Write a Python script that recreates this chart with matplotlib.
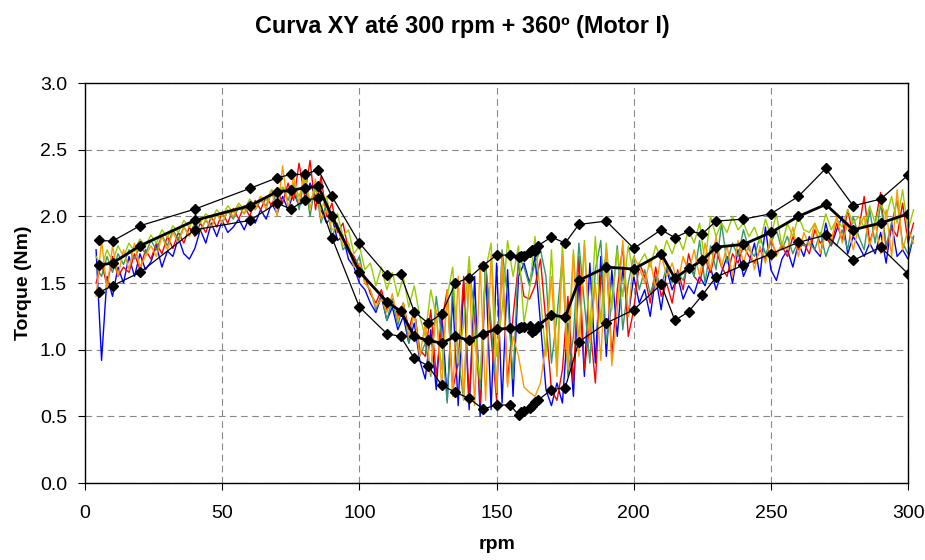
import matplotlib
matplotlib.use('Agg')
import matplotlib.pyplot as plt

plt.rcParams['font.family'] = ['Liberation Sans', 'DejaVu Sans']

# rpm sampling of the measured traces (same grid for every run)
RPM = [4, 6, 8, 10, 12, 14, 16, 18, 20, 22,
       24, 26, 28, 30, 32, 34, 36, 38, 40, 42,
       44, 46, 48, 50, 52, 54, 56, 58, 60, 62,
       64, 66, 68, 70, 72, 74, 76, 78, 80, 82,
       84, 86, 88, 90, 92, 94, 96, 98, 100, 102,
       104, 106, 108, 110, 112, 114, 116, 118, 120, 122,
       124, 126, 128, 130, 132, 134, 136, 138, 140, 142,
       144, 146, 148, 150, 152, 154, 156, 158, 160, 162,
       164, 166, 168, 170, 172, 174, 176, 178, 180, 182,
       184, 186, 188, 190, 192, 194, 196, 198, 200, 202,
       204, 206, 208, 210, 212, 214, 216, 218, 220, 222,
       224, 226, 228, 230, 232, 234, 236, 238, 240, 242,
       244, 246, 248, 250, 252, 254, 256, 258, 260, 262,
       264, 266, 268, 270, 272, 274, 276, 278, 280, 282,
       284, 286, 288, 290, 292, 294, 296, 298, 300, 302]

# torque traces (Nm), one per run
BLUE = [1.75, 0.92, 1.55, 1.40, 1.62, 1.50, 1.70, 1.55, 1.72, 1.60,
        1.66, 1.78, 1.62, 1.74, 1.70, 1.84, 1.72, 1.68, 1.76, 1.90,
        1.80, 1.95, 1.85, 1.97, 1.88, 1.92, 1.98, 1.90, 2.00, 1.95,
        2.05, 1.98, 2.10, 2.02, 2.15, 2.05, 2.18, 2.08, 2.12, 2.25,
        2.15, 2.05, 1.95, 2.00, 1.82, 1.85, 1.68, 1.62, 1.50, 1.45,
        1.35, 1.28, 1.40, 1.22, 1.32, 1.15, 1.25, 1.05, 1.20, 0.92,
        0.78, 1.15, 0.70, 1.30, 0.62, 1.40, 0.58, 1.50, 0.55, 1.55,
        0.50, 1.62, 0.55, 1.65, 0.60, 1.60, 0.65, 1.55, 1.65, 1.50,
        1.70, 1.20, 0.70, 0.58, 0.75, 0.60, 1.20, 0.65, 1.55, 0.80,
        1.65, 0.90, 1.70, 0.95, 1.60, 1.10, 1.62, 1.25, 1.55, 1.35,
        1.45, 1.25, 1.55, 1.30, 1.60, 1.45, 1.55, 1.38, 1.48, 1.42,
        1.55, 1.48, 1.62, 1.45, 1.58, 1.70, 1.50, 1.75, 1.55, 1.65,
        1.80, 1.55, 1.92, 1.60, 1.52, 1.68, 1.75, 1.62, 1.80, 1.70,
        1.85, 1.75, 1.70, 1.95, 1.78, 1.90, 2.00, 1.72, 1.85, 1.78,
        1.70, 1.80, 1.72, 1.88, 1.65, 1.95, 1.70, 1.75, 1.68, 1.85]

RED = [1.50, 1.65, 1.48, 1.70, 1.55, 1.62, 1.58, 1.72, 1.60, 1.75,
       1.68, 1.80, 1.72, 1.85, 1.76, 1.88, 1.80, 1.92, 1.85, 1.95,
       1.88, 2.00, 1.92, 2.03, 1.95, 2.06, 1.98, 2.08, 2.00, 2.12,
       2.05, 2.15, 2.08, 2.20, 2.10, 2.25, 2.12, 2.40, 2.15, 2.42,
       2.05, 2.30, 2.00, 2.10, 1.88, 1.95, 1.75, 1.70, 1.62, 1.55,
       1.42, 1.35, 1.45, 1.30, 1.38, 1.25, 1.35, 1.15, 1.30, 1.00,
       0.95, 1.30, 0.80, 1.20, 1.45, 0.70, 0.90, 1.55, 0.62, 1.30,
       0.60, 1.65, 1.10, 0.62, 1.70, 0.75, 1.25, 1.65, 1.40, 1.38,
       1.48, 1.68, 1.20, 0.70, 0.62, 0.85, 1.40, 0.75, 1.70, 0.85,
       1.20, 0.75, 1.55, 1.70, 0.95, 1.45, 1.78, 1.10, 1.30, 1.65,
       1.55, 1.35, 1.62, 1.40, 1.50, 1.35, 1.60, 1.45, 1.72, 1.55,
       1.50, 1.68, 1.58, 1.75, 1.62, 1.55, 1.72, 1.65, 1.78, 1.70,
       1.65, 1.75, 1.68, 1.82, 1.72, 1.78, 1.70, 1.85, 1.75, 1.80,
       1.72, 1.90, 1.80, 1.85, 1.78, 1.95, 1.82, 2.05, 1.85, 1.90,
       2.15, 1.80, 1.95, 2.18, 1.75, 1.92, 1.85, 2.10, 1.80, 1.95]

GREEN = [1.62, 1.55, 1.70, 1.58, 1.72, 1.64, 1.75, 1.68, 1.78, 1.72,
         1.82, 1.75, 1.86, 1.78, 1.90, 1.83, 1.92, 1.86, 1.95, 1.90,
         1.97, 1.92, 2.02, 1.95, 2.04, 1.98, 2.07, 2.02, 2.10, 2.05,
         2.12, 2.08, 2.18, 2.10, 2.22, 2.12, 2.25, 2.05, 2.30, 2.00,
         2.25, 1.95, 2.10, 1.85, 1.95, 1.75, 1.80, 1.62, 1.70, 1.50,
         1.45, 1.30, 1.42, 1.22, 1.38, 1.18, 1.35, 1.05, 1.30, 0.95,
         1.05, 0.80, 1.40, 1.10, 0.60, 1.50, 0.95, 0.62, 1.60, 1.30,
         0.70, 1.65, 1.20, 0.68, 1.75, 1.40, 0.78, 1.70, 1.62, 1.48,
         1.65, 1.75, 1.55, 0.90, 1.25, 1.70, 0.80, 1.10, 1.80, 1.35,
         0.90, 1.60, 1.82, 1.05, 1.35, 1.78, 1.15, 1.50, 1.70, 1.45,
         1.60, 1.42, 1.55, 1.48, 1.62, 1.50, 1.58, 1.52, 1.65, 1.55,
         1.82, 1.50, 1.78, 1.60, 1.95, 1.65, 1.80, 1.70, 1.90, 1.75,
         1.70, 1.85, 1.72, 1.80, 1.90, 1.75, 1.85, 1.72, 1.82, 1.78,
         1.80, 1.75, 1.88, 1.70, 1.82, 1.78, 1.90, 1.75, 2.00, 1.85,
         1.75, 2.05, 1.80, 2.10, 1.78, 1.95, 2.12, 1.80, 1.72, 1.85]

YELLOWGREEN = [1.70, 1.62, 1.75, 1.66, 1.78, 1.70, 1.80, 1.74, 1.83, 1.78,
               1.86, 1.80, 1.90, 1.84, 1.93, 1.88, 1.97, 1.92, 2.00, 1.95,
               2.02, 1.98, 2.05, 2.00, 2.08, 2.03, 2.10, 2.05, 2.13, 2.08,
               2.15, 2.12, 2.20, 2.15, 2.22, 2.18, 2.25, 2.15, 2.28, 2.12,
               2.20, 2.05, 2.15, 1.95, 2.02, 1.85, 1.90, 1.72, 1.78, 1.60,
               1.65, 1.48, 1.62, 1.45, 1.58, 1.40, 1.55, 1.32, 1.48, 1.25,
               1.10, 1.45, 1.25, 0.85, 1.40, 1.62, 0.90, 1.20, 1.70, 1.05,
               0.78, 1.60, 1.80, 0.95, 1.30, 1.82, 1.55, 1.78, 1.20, 1.45,
               1.85, 1.40, 0.95, 1.75, 0.90, 1.80, 1.00, 1.75, 1.05, 1.82,
               1.15, 1.85, 1.20, 1.80, 1.30, 1.75, 1.40, 1.78, 1.55, 1.65,
               1.72, 1.62, 1.78, 1.68, 1.82, 1.72, 1.85, 1.75, 1.90, 1.80,
               1.95, 1.65, 2.00, 1.85, 1.95, 1.88, 2.00, 1.90, 1.95, 1.85,
               1.92, 1.80, 1.98, 1.85, 2.02, 1.78, 1.95, 1.85, 2.00, 1.90,
               1.88, 1.95, 1.85, 2.02, 1.90, 1.98, 1.92, 2.05, 1.95, 2.00,
               1.92, 2.08, 1.95, 2.10, 2.00, 2.15, 1.95, 2.20, 1.90, 2.05]

ORANGE = [1.40, 1.82, 1.45, 1.78, 1.55, 1.75, 1.60, 1.80, 1.62, 1.70,
          1.78, 1.70, 1.85, 1.75, 1.88, 1.80, 1.92, 1.85, 1.95, 1.88,
          1.98, 1.92, 2.02, 1.95, 2.05, 2.00, 2.08, 2.02, 2.10, 2.05,
          2.15, 2.05, 2.20, 2.00, 2.38, 2.05, 2.30, 2.10, 2.35, 2.05,
          2.28, 1.98, 2.05, 1.90, 1.92, 1.78, 1.80, 1.62, 1.65, 1.50,
          1.45, 1.32, 1.38, 1.28, 1.42, 1.22, 1.35, 1.10, 1.28, 0.95,
          1.20, 0.82, 1.30, 0.72, 1.45, 0.65, 1.55, 0.62, 1.60, 0.58,
          1.65, 0.62, 1.72, 0.68, 1.70, 0.72, 1.10, 0.95, 0.72, 0.68,
          0.65, 0.75, 1.05, 1.55, 0.80, 1.70, 0.85, 1.72, 0.95, 1.78,
          1.05, 1.50, 0.92, 1.75, 0.88, 1.30, 1.82, 1.25, 1.70, 1.62,
          1.50, 1.68, 1.45, 1.72, 1.55, 1.65, 1.50, 1.70, 1.58, 1.75,
          1.55, 1.80, 1.60, 1.85, 1.62, 1.78, 1.55, 1.82, 1.65, 1.80,
          1.60, 1.78, 1.65, 1.85, 1.70, 1.80, 1.75, 1.92, 1.70, 1.88,
          1.78, 1.95, 1.72, 1.88, 1.82, 2.00, 1.80, 1.95, 1.75, 1.92,
          2.00, 1.78, 1.95, 1.72, 2.05, 1.70, 2.20, 1.75, 1.90, 1.80]

# max / mean / min curves with diamond markers
BLK_RPM = [5, 10, 20, 40, 60, 70, 75, 80, 85, 90,
           100, 110, 115, 120, 125, 130, 135, 140, 145, 150,
           155, 158, 159, 160, 162, 163, 164, 165, 170, 175,
           180, 190, 200, 210, 215, 220, 225, 230, 240, 250,
           260, 270, 280, 290, 300]
UPPER = [1.82, 1.815, 1.93, 2.055, 2.21, 2.29, 2.315, 2.315, 2.35, 2.15,
         1.80, 1.56, 1.565, 1.285, 1.20, 1.27, 1.50, 1.54, 1.63, 1.71,
         1.71, 1.695, 1.70, 1.70, 1.735, 1.745, 1.74, 1.78, 1.845, 1.80,
         1.94, 1.965, 1.76, 1.90, 1.84, 1.89, 1.87, 1.965, 1.98, 2.02,
         2.15, 2.36, 2.08, 2.13, 2.31]
MEAN = [1.635, 1.65, 1.78, 1.97, 2.08, 2.185, 2.195, 2.215, 2.225, 2.00,
        1.585, 1.36, 1.29, 1.10, 1.07, 1.05, 1.10, 1.07, 1.12, 1.155,
        1.16, 1.165, 1.17, 1.17, 1.175, 1.13, 1.15, 1.18, 1.26, 1.245,
        1.52, 1.62, 1.605, 1.72, 1.535, 1.61, 1.67, 1.77, 1.79, 1.88,
        2.00, 2.09, 1.90, 1.95, 2.02]
LOWER = [1.43, 1.48, 1.58, 1.90, 1.97, 2.10, 2.055, 2.12, 2.14, 1.84,
         1.32, 1.12, 1.10, 0.935, 0.88, 0.735, 0.68, 0.635, 0.555, 0.585,
         0.585, 0.51, 0.53, 0.54, 0.56, 0.58, 0.61, 0.62, 0.70, 0.715,
         1.06, 1.20, 1.30, 1.49, 1.22, 1.285, 1.41, 1.545, 1.635, 1.72,
         1.805, 1.86, 1.67, 1.77, 1.57]

TRACE_COLORS = ["#0000FF", "#FF0000", "#339966", "#99CC00", "#FF9900"]
Y_TICKS = [0.0, 0.5, 1.0, 1.5, 2.0, 2.5, 3.0]
X_TICKS = [0, 50, 100, 150, 200, 250, 300]

fig = plt.figure(figsize=(9.25, 5.6), dpi=100)
ax = fig.add_axes([0.092, 0.1375, 0.8897, 0.714])

# measured runs
for vals, color in zip([BLUE, RED, GREEN, YELLOWGREEN, ORANGE], TRACE_COLORS):
    ax.plot(RPM, vals, color=color, linewidth=1.0, clip_on=False, zorder=2)

# envelope and mean
ax.plot(BLK_RPM, UPPER, color='black', linewidth=0.9, marker='D', markersize=5.5, zorder=3)
ax.plot(BLK_RPM, LOWER, color='black', linewidth=0.9, marker='D', markersize=5.5, zorder=3)
ax.plot(BLK_RPM, MEAN, color='black', linewidth=2.0, marker='D', markersize=5.5, zorder=4)

ax.set_xlim(0, 300)
ax.set_ylim(0, 3.0)
ax.set_xticks(X_TICKS)
ax.set_yticks(Y_TICKS)
ax.set_yticklabels([f"{v:.1f}" for v in Y_TICKS])
ax.tick_params(direction='out', length=5, width=0.8, labelsize=14)
ax.tick_params(axis='x', pad=11)
ax.tick_params(axis='y', pad=8)

ax.grid(True, color='#888888', linestyle=(0, (6, 4)), linewidth=0.8)
ax.set_axisbelow(True)
for sp in ax.spines.values():
    sp.set_color('black')
    sp.set_linewidth(1.0)

ax.set_xlabel("rpm", fontsize=14, fontweight='bold', labelpad=10)
ax.set_ylabel("Torque (Nm)", fontsize=14, fontweight='bold', labelpad=6)
fig.text(0.5, 0.952, "Curva XY até 300 rpm + 360º (Motor I)", fontsize=16.8,
         fontweight='bold', ha='center', va='center')

plt.savefig("out.png", dpi=100)
plt.close()
